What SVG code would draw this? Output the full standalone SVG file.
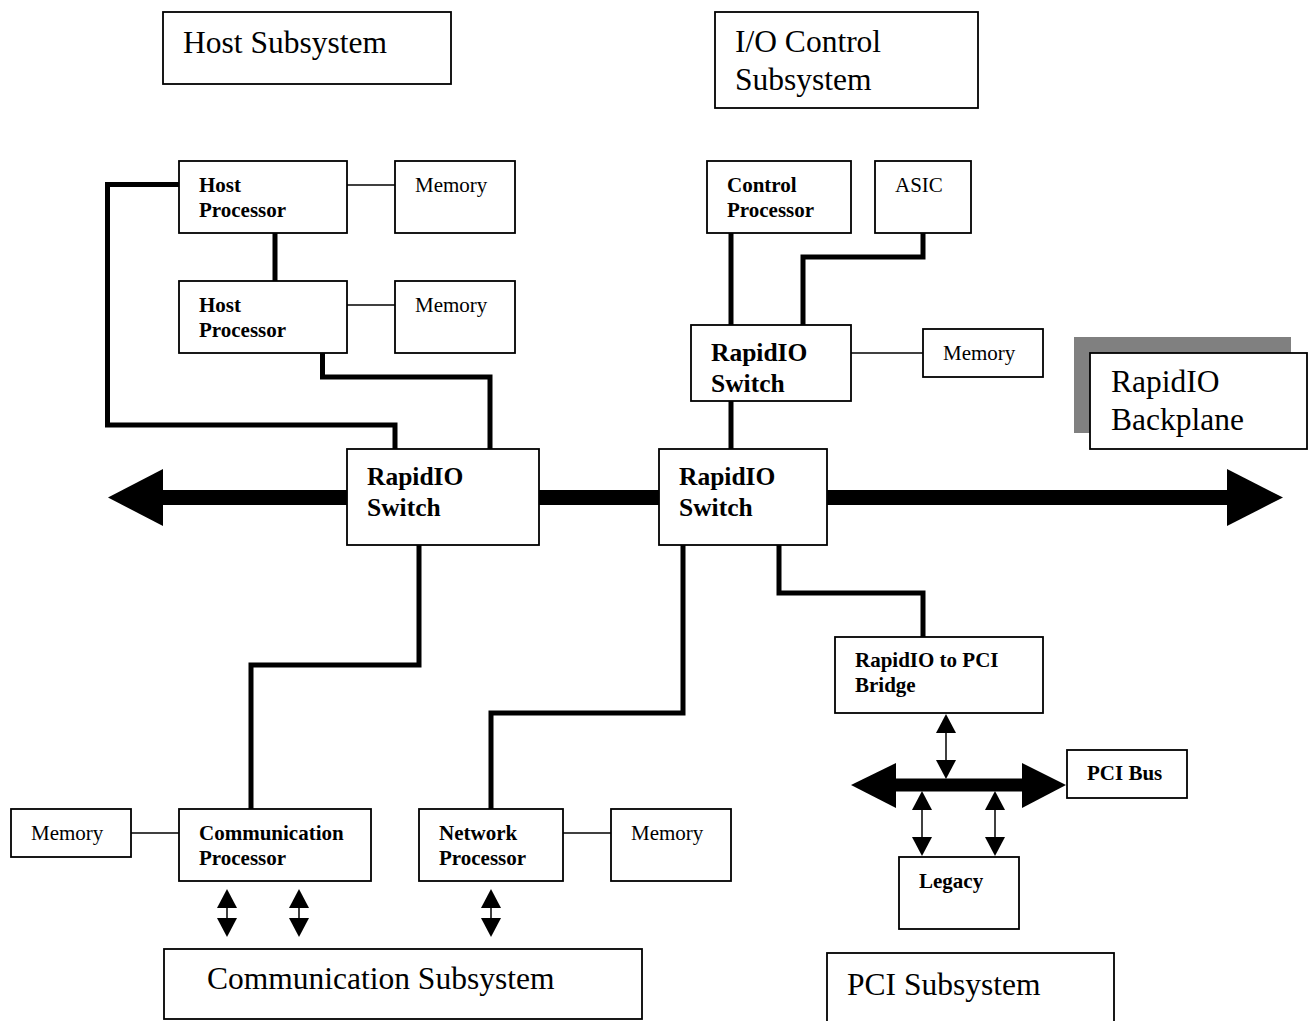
<svg xmlns="http://www.w3.org/2000/svg" width="1311" height="1021" viewBox="0 0 1311 1021">
  <style>
    .box { fill: #fff; stroke: #000; stroke-width: 1.8; }
    .shadow { fill: #808080; stroke: none; }
    .t { font-family: "Liberation Serif", "Times New Roman", serif; fill: #000; }
    .reg { font-size: 21px; }
    .bold { font-size: 21px; font-weight: bold; }
    .sw { font-size: 25.5px; font-weight: bold; }
    .big { font-size: 31.5px; }
    .thick { fill: none; stroke: #000; stroke-width: 5; stroke-linejoin: miter; stroke-linecap: butt; }
    .thin { fill: none; stroke: #000; stroke-width: 1.5; }
    .head { fill: #000; stroke: none; }
  </style>
  <defs>
    <!-- small bidirectional link: thin shaft with solid heads -->
    <polygon id="upHead" class="head" points="0,0 -10,19 10,19"/>
    <polygon id="downHead" class="head" points="0,0 -10,-19 10,-19"/>
  </defs>
  <rect width="1311" height="1021" fill="#fff"/>

  <g id="connectors">
    <!-- main RapidIO backplane bus -->
    <rect x="162" y="490" width="1066" height="15" fill="#000"/>
    <polygon class="head" points="108,497.5 163,469 163,526"/>
    <polygon class="head" points="1283,497.5 1227,469 1227,526"/>

    <!-- thick RapidIO links -->
    <path class="thick" d="M179,184.5 H107.5 V425 H395 V449"/>
    <path class="thick" d="M275,233 V281"/>
    <path class="thick" d="M322.5,353 V377 H490 V449"/>
    <path class="thick" d="M731,233 V325"/>
    <path class="thick" d="M923,233 V257 H803 V325"/>
    <path class="thick" d="M731,401 V449"/>
    <path class="thick" d="M419,545 V665 H251 V809"/>
    <path class="thick" d="M683,545 V713 H491 V809"/>
    <path class="thick" d="M779,545 V593 H923 V637"/>

    <!-- memory attachments -->
    <path class="thin" d="M347,185 H395"/>
    <path class="thin" d="M347,305 H395"/>
    <path class="thin" d="M851,353 H923"/>
    <path class="thin" d="M131,833 H179"/>
    <path class="thin" d="M563,833 H611"/>

    <!-- PCI bus -->
    <rect x="895" y="778.5" width="128" height="13" fill="#000"/>
    <polygon class="head" points="851,785 896,763 896,808"/>
    <polygon class="head" points="1066,785 1022,763 1022,808"/>

    <!-- bridge to PCI bus -->
    <path class="thin" d="M946,725 V770"/>
    <use href="#upHead" x="946" y="714"/>
    <use href="#downHead" x="946" y="779"/>
    <!-- PCI bus to legacy -->
    <path class="thin" d="M922,800 V846"/>
    <use href="#upHead" x="922" y="791"/>
    <use href="#downHead" x="922" y="856"/>
    <path class="thin" d="M995,800 V846"/>
    <use href="#upHead" x="995" y="791"/>
    <use href="#downHead" x="995" y="856"/>

    <!-- external ports of communication and network processors -->
    <path class="thin" d="M227,900 V926" stroke="#666"/>
    <use href="#upHead" x="227" y="889"/>
    <use href="#downHead" x="227" y="937"/>
    <path class="thin" d="M299,900 V926" stroke="#666"/>
    <use href="#upHead" x="299" y="889"/>
    <use href="#downHead" x="299" y="937"/>
    <path class="thin" d="M491,900 V926" stroke="#666"/>
    <use href="#upHead" x="491" y="889"/>
    <use href="#downHead" x="491" y="937"/>
  </g>

  <g id="host-subsystem">
    <rect class="box" x="163" y="12" width="288" height="72"/>
    <text class="t big" x="183" y="53">Host Subsystem</text>
  </g>
  <g id="io-control-subsystem">
    <rect class="box" x="715" y="12" width="263" height="96"/>
    <text class="t big" x="735" y="52">I/O Control</text>
    <text class="t big" x="735" y="90">Subsystem</text>
  </g>

  <g id="host-processor-1">
    <rect class="box" x="179" y="161" width="168" height="72"/>
    <text class="t bold" x="199" y="192">Host</text>
    <text class="t bold" x="199" y="217">Processor</text>
  </g>
  <g id="memory-host-1">
    <rect class="box" x="395" y="161" width="120" height="72"/>
    <text class="t reg" x="415" y="192">Memory</text>
  </g>
  <g id="host-processor-2">
    <rect class="box" x="179" y="281" width="168" height="72"/>
    <text class="t bold" x="199" y="312">Host</text>
    <text class="t bold" x="199" y="337">Processor</text>
  </g>
  <g id="memory-host-2">
    <rect class="box" x="395" y="281" width="120" height="72"/>
    <text class="t reg" x="415" y="312">Memory</text>
  </g>

  <g id="control-processor">
    <rect class="box" x="707" y="161" width="144" height="72"/>
    <text class="t bold" x="727" y="192">Control</text>
    <text class="t bold" x="727" y="217">Processor</text>
  </g>
  <g id="asic">
    <rect class="box" x="875" y="161" width="96" height="72"/>
    <text class="t reg" x="895" y="192">ASIC</text>
  </g>
  <g id="switch-io">
    <rect class="box" x="691" y="325" width="160" height="76"/>
    <text class="t sw" x="711" y="361">RapidIO</text>
    <text class="t sw" x="711" y="392">Switch</text>
  </g>
  <g id="memory-io">
    <rect class="box" x="923" y="329" width="120" height="48"/>
    <text class="t reg" x="943" y="360">Memory</text>
  </g>

  <g id="rapidio-backplane">
    <rect class="shadow" x="1074" y="337" width="217" height="96"/>
    <rect class="box" x="1090" y="353" width="217" height="96"/>
    <text class="t big" x="1111" y="392">RapidIO</text>
    <text class="t big" x="1111" y="430">Backplane</text>
  </g>

  <g id="switch-host">
    <rect class="box" x="347" y="449" width="192" height="96"/>
    <text class="t sw" x="367" y="485">RapidIO</text>
    <text class="t sw" x="367" y="516">Switch</text>
  </g>
  <g id="switch-main">
    <rect class="box" x="659" y="449" width="168" height="96"/>
    <text class="t sw" x="679" y="485">RapidIO</text>
    <text class="t sw" x="679" y="516">Switch</text>
  </g>

  <g id="pci-bridge">
    <rect class="box" x="835" y="637" width="208" height="76"/>
    <text class="t bold" x="855" y="667">RapidIO to PCI</text>
    <text class="t bold" x="855" y="692">Bridge</text>
  </g>
  <g id="pci-bus">
    <rect class="box" x="1067" y="750" width="120" height="48"/>
    <text class="t bold" x="1087" y="780">PCI Bus</text>
  </g>
  <g id="legacy">
    <rect class="box" x="899" y="857" width="120" height="72"/>
    <text class="t bold" x="919" y="888">Legacy</text>
  </g>

  <g id="memory-comm">
    <rect class="box" x="11" y="809" width="120" height="48"/>
    <text class="t reg" x="31" y="840">Memory</text>
  </g>
  <g id="communication-processor">
    <rect class="box" x="179" y="809" width="192" height="72"/>
    <text class="t bold" x="199" y="840">Communication</text>
    <text class="t bold" x="199" y="865">Processor</text>
  </g>
  <g id="network-processor">
    <rect class="box" x="419" y="809" width="144" height="72"/>
    <text class="t bold" x="439" y="840">Network</text>
    <text class="t bold" x="439" y="865">Processor</text>
  </g>
  <g id="memory-net">
    <rect class="box" x="611" y="809" width="120" height="72"/>
    <text class="t reg" x="631" y="840">Memory</text>
  </g>

  <g id="communication-subsystem">
    <rect class="box" x="164" y="949" width="478" height="70"/>
    <text class="t big" x="207" y="989">Communication Subsystem</text>
  </g>
  <g id="pci-subsystem">
    <rect class="box" x="827" y="953" width="287" height="90"/>
    <text class="t big" x="847" y="995">PCI Subsystem</text>
  </g>
</svg>
